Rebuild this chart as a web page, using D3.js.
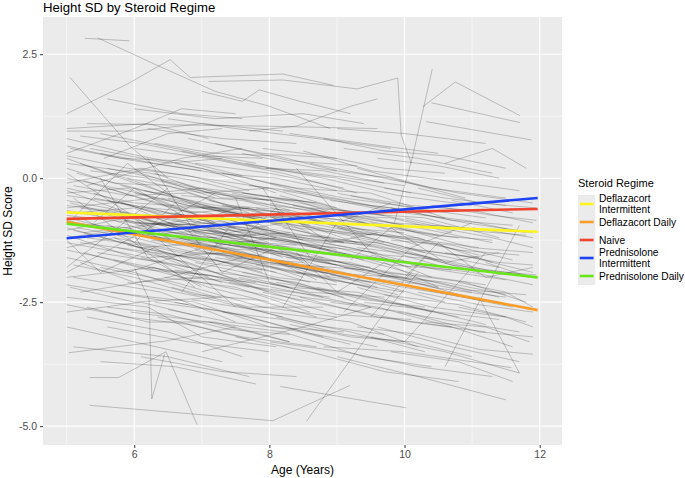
<!DOCTYPE html>
<html>
<head>
<meta charset="utf-8">
<script src="https://cdn.jsdelivr.net/npm/d3@7"></script>
<style>
  body { margin: 0; background: #fff; }
  text { font-family: "Liberation Sans", Arial, sans-serif; }
</style>
</head>
<body>
<svg width="685" height="478"></svg>
<script>
// fitted trend per regime, value at age 5 and at age 12
var regimes = ["Deflazacort Intermittent", "Deflazacort Daily", "Naive", "Prednisolone Intermittent", "Prednisolone Daily"];
var regimeLabels = [["Deflazacort", "Intermittent"], ["Deflazacort Daily"], ["Naive"], ["Prednisolone", "Intermittent"], ["Prednisolone Daily"]];
var regimeColors = ["#fdf41e", "#f99d2a", "#ef452f", "#1d43f5", "#69e51c"];
var trendAges = [5, 11.97];
var trendStart = [-0.69, -0.88, -0.82, -1.21, -0.92];
var trendEnd = [-1.08, -2.66, -0.62, -0.40, -2.0];

var xTicks = [6, 8, 10, 12];
var xMinor = [5, 7, 9, 11];
var yTicks = [-5, -2.5, 0, 2.5];
var yTickLabels = ["-5.0", "-2.5", "0.0", "2.5"];
var yMinor = [-3.75, -1.25, 1.25];

// individual patients: age, sd, age, sd, ...
var patients = [
 [5.27,2.82, 5.93,2.77],
 [5.46,2.83, 6.3,2.3, 7.2,1.75, 8.0,1.45, 8.9,1.0],
 [5.0,1.3, 5.9,1.9, 6.53,2.39, 6.83,2.03, 7.2,2.05, 8.2,2.1, 8.95,1.87],
 [7.0,1.75, 7.6,1.55, 7.85,1.78, 8.45,1.55, 9.2,1.3],
 [7.1,1.95, 8.2,1.98, 9.3,1.8, 9.9,2.02, 9.95,0.87, 10.1,0.3],
 [9.85,-0.9, 10.12,0.44, 10.41,2.2],
 [10.27,1.44, 10.75,1.94, 11.71,1.26],
 [10.4,1.52, 11.71,1.12],
 [10.32,1.14, 11.88,0.77],
 [10.6,0.3, 11.3,0.6, 11.8,0.2],
 [5.05,2.03, 5.94,0.64, 6.5,0.0],
 [5.0,0.5, 6.0,1.0, 6.7,1.4, 7.5,1.3],
 [5.34,-4.58, 8.05,-4.89, 9.19,-4.18],
 [5.34,-4.02, 5.77,-4.02, 6.47,-3.5, 6.93,-4.97],
 [6.0,-1.8, 6.22,-2.45, 6.26,-4.45, 6.45,-3.55],
 [8.55,-4.9, 9.6,-2.9, 10.2,-1.9],
 [8.16,-4.2, 10.02,-4.63],
 [5.0,0.3, 6.1,0.1, 7.2,-0.4],
 [5.0,-0.2, 6.0,-0.5, 7.1,-0.6, 8.0,-1.0],
 [5.05,-0.5, 6.2,-0.9, 7.3,-1.1],
 [5.1,-0.7, 6.0,-0.6, 7.0,-1.2, 8.2,-1.5],
 [5.0,-1.0, 6.1,-1.4, 7.0,-1.3],
 [5.2,-1.3, 6.3,-1.5, 7.4,-2.0, 8.3,-2.2],
 [5.0,-1.6, 6.0,-1.9, 7.2,-2.4],
 [5.1,-2.0, 6.4,-2.3, 7.5,-2.9],
 [5.0,-2.4, 6.2,-2.6, 7.0,-3.2, 8.1,-3.4],
 [5.3,-2.8, 6.5,-3.1, 7.6,-3.6],
 [5.0,0.8, 5.9,0.5, 7.0,0.2, 8.1,-0.3],
 [5.0,1.0, 6.2,1.1, 7.1,0.8],
 [5.0,0.4, 5.8,0.0, 6.9,-0.5, 8.0,-0.9, 9.1,-1.3],
 [5.15,0.1, 6.3,-0.3, 7.0,-0.2],
 [5.4,-0.3, 6.5,-0.8, 7.6,-1.2, 8.8,-1.6],
 [5.0,-0.9, 5.9,-1.0, 7.1,-1.5, 8.0,-1.7, 9.2,-2.0],
 [5.25,-1.1, 6.4,-0.9, 7.5,-1.0],
 [5.0,-1.4, 5.7,-1.2, 6.8,-1.8],
 [5.5,-1.8, 6.6,-2.1, 7.9,-2.6, 9.0,-2.8],
 [5.0,-3.0, 6.0,-3.3, 7.3,-3.7],
 [5.1,-3.4, 6.5,-3.6, 7.7,-4.0],
 [5.0,-0.1, 6.1,0.2, 7.0,0.0, 8.0,-0.2],
 [5.35,0.6, 6.5,0.3, 7.3,0.4],
 [5.0,-0.6, 6.3,-0.4, 7.2,-0.9],
 [5.2,-0.8, 6.0,-1.3, 7.0,-1.6, 8.1,-1.9],
 [5.0,-1.2, 6.0,-1.0, 7.0,-0.8],
 [5.45,-1.5, 6.4,-1.7, 7.3,-2.1],
 [5.0,-2.0, 6.3,-1.8, 7.1,-2.2, 8.0,-2.5],
 [5.05,-2.2, 6.0,-2.5, 7.3,-2.4],
 [5.3,-2.6, 6.2,-2.9, 7.2,-2.9, 8.3,-3.3],
 [5.0,0.1, 6.6,-1.3],
 [5.1,-0.4, 6.9,-2.2],
 [5.0,-1.8, 6.5,-0.2],
 [5.0,-0.3, 5.9,-0.2, 6.8,-0.7, 7.7,-0.6, 8.6,-1.1],
 [5.2,0.3, 6.1,-0.1, 7.0,-0.6, 7.9,-0.8],
 [5.0,-0.75, 6.0,-0.9, 7.0,-0.95, 8.0,-1.4],
 [5.1,-1.05, 6.1,-1.4, 7.2,-1.7],
 [5.0,-1.3, 6.2,-1.6, 7.4,-1.5, 8.5,-2.0],
 [5.25,-0.05, 6.3,-0.5, 7.4,-0.9],
 [5.0,-2.7, 6.1,-2.5, 7.0,-2.8],
 [5.2,-1.7, 6.0,-2.1, 7.0,-2.0],
 [5.0,-0.45, 5.6,-0.6, 6.6,-1.0],
 [5.3,-0.95, 6.4,-1.2, 7.5,-1.6, 8.6,-1.8],
 [5.03,-3.52, 6.4,-3.29],
 [5.6,0.2, 6.7,-0.1, 7.8,-0.5, 8.9,-0.7],
 [5.8,-0.5, 6.9,-0.8, 8.0,-1.3],
 [6.0,-0.9, 7.0,-1.0, 8.1,-1.4, 9.2,-1.6],
 [5.7,-1.2, 6.8,-1.5, 7.9,-1.9],
 [6.1,-1.6, 7.2,-1.9, 8.4,-2.1, 9.5,-2.6],
 [5.9,-2.1, 7.0,-2.4, 8.2,-2.8],
 [6.3,-2.5, 7.4,-2.7, 8.5,-3.1, 9.6,-3.4],
 [5.6,-3.0, 6.8,-3.3, 8.0,-3.5],
 [6.0,0.6, 7.1,0.4, 8.2,0.1, 9.3,-0.3],
 [6.2,1.0, 7.3,0.8, 8.4,0.7],
 [5.9,0.0, 7.0,-0.3, 8.0,-0.2, 9.0,-0.6],
 [6.4,-0.4, 7.5,-0.7, 8.6,-1.0, 9.7,-1.3],
 [5.5,-0.7, 6.6,-1.1, 7.7,-1.3, 8.8,-1.8],
 [6.05,-1.0, 7.1,-1.2, 8.3,-1.1],
 [5.75,-1.4, 6.8,-1.7, 7.8,-2.2, 8.9,-2.4],
 [6.2,-1.8, 7.3,-2.0, 8.5,-2.5],
 [5.65,-2.3, 6.9,-2.5, 8.0,-3.0, 9.1,-3.1],
 [6.35,-2.8, 7.6,-3.2, 8.7,-3.4],
 [5.55,0.4, 6.5,0.9, 7.3,1.0],
 [6.0,1.4, 7.2,1.2, 8.5,1.3, 9.4,1.1],
 [5.6,-0.2, 6.6,-0.6, 7.7,-0.6],
 [6.1,-0.55, 7.0,-0.9, 8.0,-1.05, 9.0,-1.45],
 [5.85,-0.85, 6.9,-1.3, 7.9,-1.6],
 [6.25,-1.25, 7.4,-1.4, 8.4,-1.8, 9.5,-2.1],
 [5.7,-1.65, 6.7,-2.0, 7.8,-2.1],
 [6.45,-2.0, 7.5,-2.2, 8.6,-2.7],
 [5.95,-2.7, 7.1,-2.9, 8.3,-3.3],
 [6.6,0.3, 7.7,0.0, 8.8,-0.4, 9.9,-0.7],
 [6.8,-0.2, 7.9,-0.5, 9.0,-0.9],
 [7.0,-0.6, 8.1,-0.9, 9.2,-1.1, 10.3,-1.5],
 [6.7,-1.0, 7.8,-1.3, 8.9,-1.7],
 [7.2,-1.3, 8.3,-1.5, 9.4,-1.9, 10.5,-2.2],
 [6.9,-1.7, 8.0,-2.0, 9.1,-2.4],
 [7.4,-2.1, 8.5,-2.4, 9.6,-2.6, 10.7,-3.0],
 [6.6,-2.5, 7.7,-2.8, 8.8,-3.2],
 [7.1,-2.9, 8.2,-3.1, 9.4,-3.6, 10.4,-3.8],
 [6.8,0.8, 7.9,0.5, 9.0,0.4],
 [7.3,0.1, 8.4,-0.2, 9.5,-0.3, 10.6,-0.8],
 [6.5,-0.4, 7.6,-0.7, 8.7,-0.8],
 [7.0,-0.95, 8.0,-1.2, 9.0,-1.5, 10.1,-1.7],
 [6.75,-1.5, 7.9,-1.6, 9.0,-2.1],
 [7.25,-1.85, 8.3,-2.2, 9.3,-2.3, 10.4,-2.7],
 [6.55,-2.2, 7.7,-2.6, 8.8,-2.6],
 [7.45,-0.3, 8.6,-0.6, 9.7,-1.0, 10.8,-1.2],
 [6.9,0.3, 8.0,0.1, 9.1,-0.2],
 [7.15,-0.75, 8.2,-0.8, 9.3,-1.3],
 [6.65,-1.2, 7.7,-1.55, 8.8,-1.9, 9.9,-2.0],
 [7.35,-1.6, 8.4,-1.9, 9.5,-2.2],
 [6.85,-2.45, 8.0,-2.7, 9.2,-2.9, 10.2,-3.4],
 [7.6,0.5, 8.7,0.2, 9.8,0.0, 10.9,-0.4],
 [8.0,-0.1, 9.1,-0.4, 10.2,-0.6],
 [7.8,-0.6, 8.9,-0.9, 10.0,-1.2, 11.1,-1.4],
 [8.2,-1.0, 9.3,-1.3, 10.4,-1.6],
 [7.7,-1.4, 8.8,-1.7, 9.9,-2.0, 11.0,-2.3],
 [8.4,-1.9, 9.5,-2.1, 10.6,-2.5],
 [7.9,-2.3, 9.0,-2.6, 10.1,-2.9, 11.2,-3.1],
 [8.1,-2.8, 9.2,-3.1, 10.3,-3.5],
 [7.5,-3.2, 8.6,-3.5, 9.7,-3.9, 10.8,-4.1],
 [8.3,0.9, 9.4,0.7, 10.5,0.5],
 [7.6,-0.3, 8.7,-0.5, 9.8,-0.9, 10.9,-1.0],
 [8.05,-0.8, 9.1,-1.1, 10.2,-1.2, 11.3,-1.7],
 [7.85,-1.2, 9.0,-1.4, 10.1,-1.8],
 [8.25,-1.6, 9.3,-1.8, 10.4,-2.2, 11.5,-2.4],
 [7.55,-2.0, 8.6,-2.3, 9.7,-2.4],
 [8.45,-2.4, 9.6,-2.8, 10.7,-3.0, 11.6,-3.4],
 [7.95,0.2, 9.0,0.0, 10.1,-0.3],
 [8.15,-0.35, 9.2,-0.7, 10.3,-0.8, 11.4,-1.2],
 [7.7,0.95, 8.4,1.05, 9.2,1.45, 9.6,1.6],
 [8.6,0.3, 9.7,0.0, 10.8,-0.3, 11.9,-0.5],
 [9.0,-0.3, 10.1,-0.6, 11.2,-0.8],
 [8.8,-0.8, 9.9,-1.0, 11.0,-1.4, 11.9,-1.5],
 [9.2,-1.2, 10.3,-1.5, 11.4,-1.8],
 [8.7,-1.6, 9.8,-1.9, 10.9,-2.1, 11.8,-2.5],
 [9.4,-2.0, 10.5,-2.3, 11.6,-2.6],
 [8.9,-2.5, 10.0,-2.7, 11.1,-3.1, 11.9,-3.2],
 [9.6,-3.0, 10.7,-3.4, 11.7,-3.7],
 [9.1,0.6, 10.2,0.4, 11.3,0.1],
 [9.8,-0.6, 10.9,-0.9, 11.9,-1.1],
 [10.0,-1.4, 11.0,-1.6, 11.9,-1.9],
 [9.3,-2.2, 10.4,-2.6, 11.5,-2.8],
 [10.2,-0.2, 11.1,-0.5, 11.95,-0.6],
 [10.5,-1.0, 11.3,-1.2, 11.9,-1.4],
 [9.0,-3.6, 10.2,-4.0, 11.5,-4.47],
 [9.5,-3.2, 10.6,-3.5, 11.7,-3.93],
 [8.8,-3.4, 10.0,-3.5, 11.58,-3.82],
 [10.6,-3.8, 11.7,-0.95],
 [11.1,-2.4, 11.7,-3.93],
 [5.0,-0.55, 6.2,-0.75, 7.3,-1.25, 8.4,-1.35],
 [5.15,-0.85, 6.1,-1.15, 7.1,-1.05, 8.2,-1.6],
 [5.0,-1.15, 6.0,-1.6, 7.0,-1.85],
 [5.6,-0.95, 6.6,-1.35, 7.7,-1.45, 8.7,-2.05],
 [5.8,-0.15, 6.8,-0.45, 7.9,-0.85],
 [6.15,-0.25, 7.2,-0.55, 8.3,-0.7, 9.4,-1.15],
 [6.4,-1.05, 7.4,-1.35, 8.5,-1.55],
 [6.6,-0.7, 7.6,-1.05, 8.6,-1.35, 9.6,-1.5],
 [6.9,-1.25, 7.9,-1.45, 9.0,-1.75],
 [7.1,-0.45, 8.1,-0.75, 9.1,-0.95, 10.2,-1.35],
 [7.3,-1.1, 8.4,-1.3, 9.4,-1.65],
 [7.55,-0.9, 8.5,-1.15, 9.6,-1.4, 10.6,-1.8],
 [7.8,-1.75, 8.9,-2.05, 10.0,-2.3],
 [8.1,-1.35, 9.1,-1.55, 10.2,-1.95, 11.2,-2.15],
 [8.35,-0.55, 9.4,-0.85, 10.5,-1.15],
 [8.6,-1.15, 9.6,-1.35, 10.7,-1.75, 11.8,-1.95],
 [8.9,-1.95, 10.0,-2.2, 11.1,-2.45],
 [9.2,-0.75, 10.2,-1.0, 11.3,-1.3],
 [9.5,-1.55, 10.5,-1.85, 11.5,-2.05],
 [9.7,-2.35, 10.8,-2.55, 11.8,-2.9],
 [5.05,0.6, 6.0,0.35, 7.0,0.15],
 [5.3,-0.15, 6.7,0.4, 7.6,0.6],
 [5.5,0.9, 6.6,0.6, 7.8,0.3],
 [5.2,-2.3, 6.5,-2.0, 7.6,-1.6],
 [5.9,-1.9, 7.0,-1.4, 8.1,-1.2],
 [6.3,0.1, 7.3,-0.4, 8.4,-0.45, 9.5,-0.95],
 [6.7,0.55, 7.8,0.25, 8.9,0.05, 10.0,-0.15],
 [7.2,0.7, 8.3,0.35, 9.3,0.25],
 [7.65,0.3, 8.8,0.0, 9.9,-0.35, 11.0,-0.55],
 [8.5,0.55, 9.5,0.15, 10.6,-0.05, 11.7,-0.25],
 [9.3,0.2, 10.4,-0.2, 11.5,-0.4],
 [9.0,1.0, 10.0,0.9, 11.2,0.7],
 [6.5,1.2, 7.5,1.0, 8.7,0.8, 9.8,0.6],
 [5.6,1.6, 6.7,1.3, 7.6,1.2],
 [5.3,1.1, 7.9,1.05, 9.6,1.0],
 [5.0,0.95, 6.0,0.95, 7.0,1.1, 8.2,0.95],
 [6.8,-2.05, 7.9,-2.35, 9.0,-2.75, 10.1,-2.85],
 [7.5,-2.55, 8.6,-2.95, 9.7,-3.15],
 [8.0,-3.3, 9.1,-3.5, 10.2,-3.8, 11.3,-4.0],
 [9.8,-3.5, 10.8,-3.7, 11.6,-4.1],
 [6.1,-3.6, 7.3,-3.9, 8.4,-4.0],
 [5.5,-3.7, 6.6,-3.8, 7.8,-4.15],
 [7.0,-3.5, 8.5,-3.0, 9.5,-2.6],
 [6.4,-3.3, 7.5,-3.0],
 [10.8,-2.1, 11.5,-2.3, 11.9,-2.6],
 [10.3,-2.9, 11.2,-3.0, 11.85,-3.3],
 [11.0,-1.0, 11.9,-1.2],
 [10.7,-0.45, 11.6,-0.7],
 [11.2,-1.7, 11.85,-2.0],
 [5.0,-1.9, 7.2,-0.3],
 [5.5,0.0, 6.2,-1.6, 7.0,-2.2],
 [6.0,-0.8, 7.5,-2.6],
 [7.5,-0.4, 8.0,-2.1, 8.8,-2.4],
 [8.2,-2.6, 9.0,-0.9, 9.8,-0.5],
 [9.1,-2.7, 10.1,-1.4, 11.0,-0.9],
 [10.0,-3.3, 11.2,-1.5],
 [8.4,0.2, 9.5,-1.5, 10.4,-2.0],
 [6.2,0.4, 6.9,-1.1, 7.9,-1.5],
 [5.0,-0.35, 5.8,-0.5, 6.7,-0.85, 7.6,-1.0, 8.5,-1.25],
 [5.1,-0.15, 5.9,-0.35, 6.8,-0.3, 7.7,-0.7],
 [5.0,0.2, 5.7,-0.1, 6.5,-0.15, 7.4,-0.55, 8.3,-0.65],
 [5.2,-0.6, 6.0,-0.75, 6.9,-1.1, 7.8,-1.15],
 [5.0,-0.85, 5.8,-1.1, 6.7,-1.25, 7.6,-1.6, 8.5,-1.7],
 [5.3,-1.2, 6.1,-1.35, 7.0,-1.7, 7.9,-1.85],
 [5.0,-1.45, 5.9,-1.7, 6.8,-1.95, 7.7,-2.2],
 [5.1,-1.75, 6.0,-2.0, 6.9,-2.35, 7.8,-2.45, 8.7,-2.8],
 [5.0,-2.15, 5.9,-2.35, 6.8,-2.55],
 [5.4,-0.4, 6.2,-0.6, 7.1,-0.7, 8.0,-1.1, 8.9,-1.2],
 [5.0,0.0, 5.9,-0.25, 6.8,-0.55, 7.7,-0.65, 8.6,-0.95],
 [5.15,-1.0, 6.0,-1.2, 6.9,-1.5, 7.8,-1.55, 8.7,-1.9],
 [5.0,-0.65, 5.6,-0.8, 6.4,-0.95, 7.3,-1.35],
 [5.25,-1.5, 6.2,-1.85, 7.1,-1.95, 8.0,-2.3],
 [5.0,-1.05, 5.7,-0.85, 6.5,-1.2, 7.4,-1.3],
 [5.0,0.45, 5.9,0.2, 6.8,0.05, 7.7,-0.25],
 [5.35,0.15, 6.2,0.0, 7.1,-0.3, 8.0,-0.45],
 [5.0,-0.25, 6.4,-0.95, 7.2,-0.9, 8.1,-1.2],
 [5.6,-0.45, 6.4,-0.7, 7.3,-0.8, 8.2,-1.15, 9.1,-1.3],
 [5.7,-0.7, 6.5,-0.95, 7.4,-1.2, 8.3,-1.4],
 [5.8,-1.05, 6.7,-1.2, 7.6,-1.5, 8.5,-1.75, 9.4,-1.85],
 [5.9,-1.35, 6.8,-1.6, 7.7,-1.75, 8.6,-2.1],
 [6.0,-0.3, 6.8,-0.55, 7.7,-0.75, 8.6,-0.8, 9.5,-1.15],
 [6.0,0.15, 6.9,-0.05, 7.8,-0.35, 8.7,-0.5],
 [6.1,-1.15, 7.0,-1.35, 7.9,-1.7, 8.8,-1.8, 9.7,-2.1],
 [6.2,-0.75, 7.1,-1.0, 8.0,-1.15, 8.9,-1.45],
 [6.3,-1.5, 7.2,-1.65, 8.1,-2.0, 9.0,-2.15],
 [6.4,-0.05, 7.3,-0.3, 8.2,-0.5, 9.1,-0.75, 10.0,-0.95],
 [6.5,-0.9, 7.4,-1.15, 8.3,-1.25, 9.2,-1.55],
 [6.6,-1.85, 7.5,-2.05, 8.4,-2.3, 9.3,-2.55],
 [6.7,-0.35, 7.6,-0.45, 8.5,-0.75, 9.4,-0.9, 10.3,-1.25],
 [6.8,-0.8, 7.7,-0.95, 8.6,-1.25, 9.5,-1.35],
 [6.9,-1.45, 7.8,-1.7, 8.7,-1.85, 9.6,-2.2],
 [7.0,-0.2, 7.9,-0.35, 8.8,-0.6, 9.7,-0.75],
 [7.1,-1.05, 8.0,-1.25, 8.9,-1.45, 9.8,-1.75, 10.7,-1.85],
 [7.2,-1.6, 8.1,-1.8, 9.0,-2.05, 9.9,-2.35],
 [7.3,-0.55, 8.2,-0.7, 9.1,-1.0, 10.0,-1.1],
 [7.4,-1.35, 8.3,-1.6, 9.2,-1.7, 10.1,-2.05],
 [7.5,-0.75, 8.4,-1.0, 9.3,-1.15, 10.2,-1.45, 11.1,-1.6],
 [7.6,-1.9, 8.5,-2.15, 9.4,-2.45, 10.3,-2.6],
 [7.7,-0.15, 8.6,-0.3, 9.5,-0.55, 10.4,-0.7],
 [7.8,-1.0, 8.7,-1.25, 9.6,-1.3, 10.5,-1.65],
 [7.9,-1.5, 8.8,-1.6, 9.7,-1.95, 10.6,-2.1, 11.5,-2.35],
 [8.0,-0.5, 8.9,-0.75, 9.8,-0.8, 10.7,-1.1],
 [8.1,-2.1, 9.0,-2.3, 9.9,-2.55, 10.8,-2.8],
 [8.2,-0.25, 9.1,-0.45, 10.0,-0.7, 10.9,-0.85, 11.8,-1.1],
 [8.3,-1.2, 9.2,-1.4, 10.1,-1.7, 11.0,-1.85],
 [8.4,-0.85, 9.3,-1.1, 10.2,-1.25, 11.1,-1.55],
 [8.5,-1.75, 9.4,-2.0, 10.3,-2.15, 11.2,-2.5],
 [8.6,-0.6, 9.5,-0.7, 10.4,-0.95, 11.3,-1.05],
 [8.7,-2.2, 9.6,-2.45, 10.5,-2.7, 11.4,-2.85],
 [8.8,-1.3, 9.7,-1.55, 10.6,-1.65, 11.5,-1.95],
 [8.9,-0.45, 9.8,-0.6, 10.7,-0.85, 11.6,-0.95],
 [9.0,-1.0, 9.9,-1.2, 10.8,-1.45, 11.7,-1.55],
 [9.1,-1.8, 10.0,-1.95, 10.9,-2.25, 11.8,-2.35],
 [9.2,-0.35, 10.1,-0.55, 11.0,-0.65, 11.9,-0.9],
 [9.3,-1.4, 10.2,-1.55, 11.1,-1.85, 11.95,-1.95],
 [9.4,-2.5, 10.3,-2.65, 11.2,-2.95],
 [9.5,-0.9, 10.4,-1.15, 11.3,-1.25],
 [9.6,-1.95, 10.5,-2.1, 11.4,-2.4],
 [9.7,-0.2, 10.6,-0.4, 11.5,-0.55],
 [9.8,-1.25, 10.7,-1.35, 11.6,-1.65],
 [9.9,-2.7, 10.8,-2.9, 11.7,-3.1],
 [10.0,-0.8, 10.9,-1.05, 11.8,-1.15],
 [10.1,-1.75, 11.0,-1.9, 11.9,-2.15],
 [10.2,-2.3, 11.1,-2.55, 11.9,-2.7],
 [10.4,-0.55, 11.3,-0.75, 11.95,-0.85],
 [10.6,-1.5, 11.4,-1.7, 11.9,-1.75],
 [10.8,-2.6, 11.5,-2.8, 11.9,-3.0],
 [5.0,0.65, 5.8,0.4, 6.7,0.35, 7.6,0.05],
 [5.2,0.85, 6.1,0.7, 7.0,0.45, 7.9,0.4],
 [5.5,0.5, 6.3,0.3, 7.2,0.1, 8.1,0.0, 9.0,-0.25],
 [6.3,0.7, 7.2,0.5, 8.1,0.45, 9.0,0.15],
 [7.0,0.45, 7.9,0.2, 8.8,0.15, 9.7,-0.1],
 [7.9,0.6, 8.8,0.45, 9.7,0.2, 10.6,0.1],
 [8.8,0.8, 9.7,0.55, 10.6,0.45, 11.5,0.2],
 [9.6,0.4, 10.5,0.25, 11.4,0.0],
 [5.0,-2.55, 5.9,-2.8, 6.8,-2.95, 7.7,-3.25],
 [5.6,-2.6, 6.5,-2.75, 7.4,-3.05, 8.3,-3.15],
 [6.5,-2.65, 7.4,-2.9, 8.3,-3.05, 9.2,-3.35],
 [7.3,-2.7, 8.2,-2.85, 9.1,-3.15, 10.0,-3.3],
 [8.3,-2.95, 9.2,-3.2, 10.1,-3.3, 11.0,-3.6],
 [9.3,-3.0, 10.2,-3.15, 11.1,-3.45, 11.9,-3.55],
 [5.0,-1.25, 5.5,-1.9, 6.3,-1.4, 7.1,-2.0],
 [5.4,-0.9, 6.0,-0.2, 6.9,-0.9, 7.5,-0.6],
 [6.0,-1.3, 6.6,-0.5, 7.4,-1.1, 8.2,-0.9],
 [6.8,-1.05, 7.3,-1.9, 8.1,-1.4, 8.9,-2.0],
 [7.6,-1.2, 8.1,-0.6, 8.9,-1.3, 9.6,-1.1],
 [8.4,-1.5, 9.0,-2.3, 9.7,-1.7, 10.5,-2.2],
 [9.2,-1.65, 9.8,-1.0, 10.6,-1.7, 11.4,-1.5],
 [10.0,-2.0, 10.5,-1.3, 11.2,-2.0, 11.9,-1.8],
 [5.1,-0.8, 5.9,0.3, 6.6,-0.4],
 [6.7,-2.3, 7.4,-1.0, 8.3,-1.2],
 [7.9,-0.2, 8.6,-1.6, 9.5,-1.8],
 [9.5,-2.8, 10.3,-1.6, 11.1,-1.9]
];

var svg = d3.select('svg');
var panel = {left: 43, right: 562, top: 17, bottom: 445};

var x = d3.scaleLinear().domain([4.65, 12.33]).range([panel.left, panel.right]);
var y = d3.scaleLinear().domain([-5.38, 3.25]).range([panel.bottom, panel.top]);

// panel background + grid
svg.append('rect')
    .attr('x', panel.left).attr('y', panel.top)
    .attr('width', panel.right - panel.left).attr('height', panel.bottom - panel.top)
    .attr('fill', '#ebebeb');

var grid = svg.append('g');
grid.selectAll('.xminor').data(xMinor).enter().append('line')
    .attr('x1', d => x(d)).attr('x2', d => x(d))
    .attr('y1', panel.top).attr('y2', panel.bottom)
    .attr('stroke', '#fff').attr('stroke-width', 0.55);
grid.selectAll('.yminor').data(yMinor).enter().append('line')
    .attr('y1', d => y(d)).attr('y2', d => y(d))
    .attr('x1', panel.left).attr('x2', panel.right)
    .attr('stroke', '#fff').attr('stroke-width', 0.55);
grid.selectAll('.xmajor').data(xTicks).enter().append('line')
    .attr('x1', d => x(d)).attr('x2', d => x(d))
    .attr('y1', panel.top).attr('y2', panel.bottom)
    .attr('stroke', '#fff').attr('stroke-width', 1.1);
grid.selectAll('.ymajor').data(yTicks).enter().append('line')
    .attr('y1', d => y(d)).attr('y2', d => y(d))
    .attr('x1', panel.left).attr('x2', panel.right)
    .attr('stroke', '#fff').attr('stroke-width', 1.1);

// spaghetti
var line = d3.line().x(d => x(d[0])).y(d => y(d[1]));
function pairs(a) {
    var out = [];
    for (var i = 0; i < a.length; i += 2) out.push([a[i], a[i + 1]]);
    return out;
}
svg.append('g').selectAll('path').data(patients).enter().append('path')
    .attr('d', d => line(pairs(d)))
    .attr('fill', 'none')
    .attr('stroke', '#000')
    .attr('stroke-opacity', 0.36)
    .attr('stroke-width', 0.6);

// trend lines
svg.append('g').selectAll('path').data(regimes).enter().append('path')
    .attr('d', (d, i) => line([[trendAges[0], trendStart[i]], [trendAges[1], trendEnd[i]]]))
    .attr('fill', 'none')
    .attr('stroke', (d, i) => regimeColors[i])
    .attr('stroke-width', 2.6);

// axes
var xAxis = svg.append('g')
    .attr('transform', 'translate(0,' + panel.bottom + ')')
    .call(d3.axisBottom(x).tickValues(xTicks).tickSize(3).tickPadding(3).tickFormat(d3.format('d')));
var yAxis = svg.append('g')
    .attr('transform', 'translate(' + panel.left + ',0)')
    .call(d3.axisLeft(y).tickValues(yTicks).tickSize(3).tickPadding(3)
        .tickFormat((d, i) => yTickLabels[i]));
[xAxis, yAxis].forEach(function(a) {
    a.select('.domain').remove();
    a.selectAll('.tick line').attr('stroke', '#333');
    a.selectAll('.tick text').attr('fill', '#4d4d4d')
        .style('font-size', '10.5px')
        .style('font-family', '"Liberation Sans", Arial, sans-serif');
});

// titles
svg.append('text').attr('x', 43).attr('y', 12)
    .style('font-size', '13.2px').attr('fill', '#000')
    .text('Height SD by Steroid Regime');
svg.append('text').attr('x', (panel.left + panel.right) / 2).attr('y', 474)
    .attr('text-anchor', 'middle').style('font-size', '12px')
    .text('Age (Years)');
svg.append('text')
    .attr('transform', 'translate(12,' + (panel.top + panel.bottom) / 2 + ') rotate(-90)')
    .attr('text-anchor', 'middle').style('font-size', '12px')
    .text('Height SD Score');

// legend
var lg = svg.append('g').attr('transform', 'translate(578,0)');
lg.append('text').attr('x', 0).attr('y', 187).style('font-size', '11px').text('Steroid Regime');
var keyTop = 195, keyH = 18;
var item = lg.selectAll('.item').data(regimes).enter().append('g')
    .attr('transform', (d, i) => 'translate(0,' + (keyTop + i * keyH) + ')');
item.append('rect').attr('width', 17.3).attr('height', keyH).attr('fill', '#ebebeb');
item.append('line').attr('x1', 1.7).attr('x2', 15.6)
    .attr('y1', keyH / 2).attr('y2', keyH / 2)
    .attr('stroke', (d, i) => regimeColors[i]).attr('stroke-width', 2.6);
item.each(function(d, i) {
    var lines = regimeLabels[i];
    var t = d3.select(this).append('text').attr('x', 21).style('font-size', '10.2px');
    lines.forEach(function(s, j) {
        t.append('tspan').attr('x', 21)
            .attr('y', keyH / 2 + 3.7 + (j - (lines.length - 1) / 2) * 11.5)
            .text(s);
    });
});
</script>
</body>
</html>
